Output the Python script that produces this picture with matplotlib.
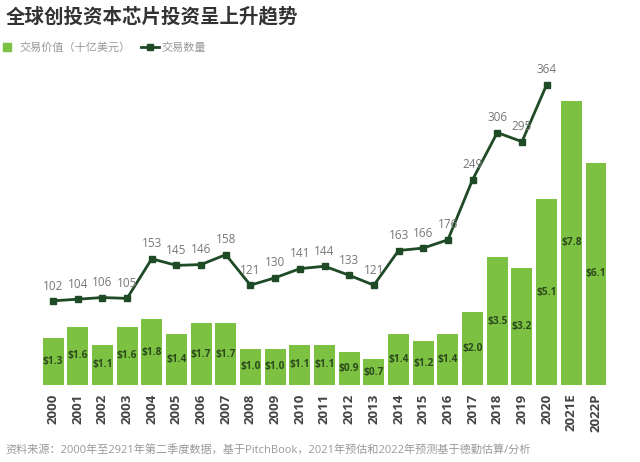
import matplotlib
matplotlib.use("Agg")
from matplotlib import pyplot as plt
from matplotlib.lines import Line2D

plt.rcParams['font.family'] = ['Open Sans', 'Noto Sans CJK SC', 'DejaVu Sans']

# data
years = ["2000", "2001", "2002", "2003", "2004", "2005", "2006", "2007", "2008", "2009",
         "2010", "2011", "2012", "2013", "2014", "2015", "2016", "2017", "2018", "2019",
         "2020", "2021E", "2022P"]
deal_value = [1.3, 1.6, 1.1, 1.6, 1.8, 1.4, 1.7, 1.7, 1.0, 1.0, 1.1, 1.1, 0.9, 0.7,
              1.4, 1.2, 1.4, 2.0, 3.5, 3.2, 5.1, 7.8, 6.1]
deal_count = [102, 104, 106, 105, 153, 145, 146, 158, 121, 130, 141, 144, 133, 121,
              163, 166, 176, 249, 306, 295, 364]

bar_color = '#7cc142'
line_color = '#1e4a26'

fig = plt.figure(figsize=(6.4, 4.62), dpi=100)
ax = fig.add_axes([0.0597, 0.1667, 0.8947, 0.682])

x = range(len(years))
ax.bar(x, deal_value, width=0.85, color=bar_color)
# value labels in the middle of each bar
for i, v in enumerate(deal_value):
    ax.text(i, v / 2, "$%.1f" % v, ha='center', va='center', fontsize=7.3,
            fontweight='bold', color='#2c4a1c')

ax.set_xlim(-0.6, len(years) - 0.4)
ax.set_ylim(0, 8.65)
ax.set_xticks(list(x))
ax.set_xticklabels(years, rotation=90, fontsize=9.5, fontweight='bold', color='#444444')
ax.tick_params(axis='x', length=0, pad=6)
ax.set_yticks([])
for s in ax.spines.values():
    s.set_visible(False)

# count line on twin axis
ax2 = ax.twinx()
xc = range(len(deal_count))
ax2.plot(xc, deal_count, color=line_color, linewidth=2, marker='s', markersize=4.5)
for i, c in enumerate(deal_count):
    ax2.annotate(str(c), (i, c), xytext=(0, 6), textcoords='offset points',
                 ha='center', va='bottom', fontsize=8.5, color='#777777')
ax2.set_ylim(0, 382)
ax2.set_yticks([])
for s in ax2.spines.values():
    s.set_visible(False)

# title
fig.text(0.009, 0.962, "全球创投资本芯片投资呈上升趋势", fontsize=14, fontweight='bold',
         color='#333333', va='center', ha='left')

# legend
handles = [Line2D([0], [0], color=bar_color, linestyle='none', marker='s', markersize=6),
           Line2D([0], [0], color=line_color, linewidth=2, marker='s', markersize=4.5)]
fig.legend(handles, ["交易价值（十亿美元）", "交易数量"], loc='center left',
           bbox_to_anchor=(-0.018, 0.895), ncol=2, frameon=False, fontsize=8,
           labelcolor='#999999', handlelength=1.6, handletextpad=0.3, columnspacing=0.9)

# source
fig.text(0.008, 0.025, "资料来源：2000年至2921年第二季度数据，基于PitchBook，2021年预估和2022年预测基于德勤估算/分析",
         fontsize=8, color='#999999', va='center', ha='left')

plt.savefig('out.png', dpi=100)
